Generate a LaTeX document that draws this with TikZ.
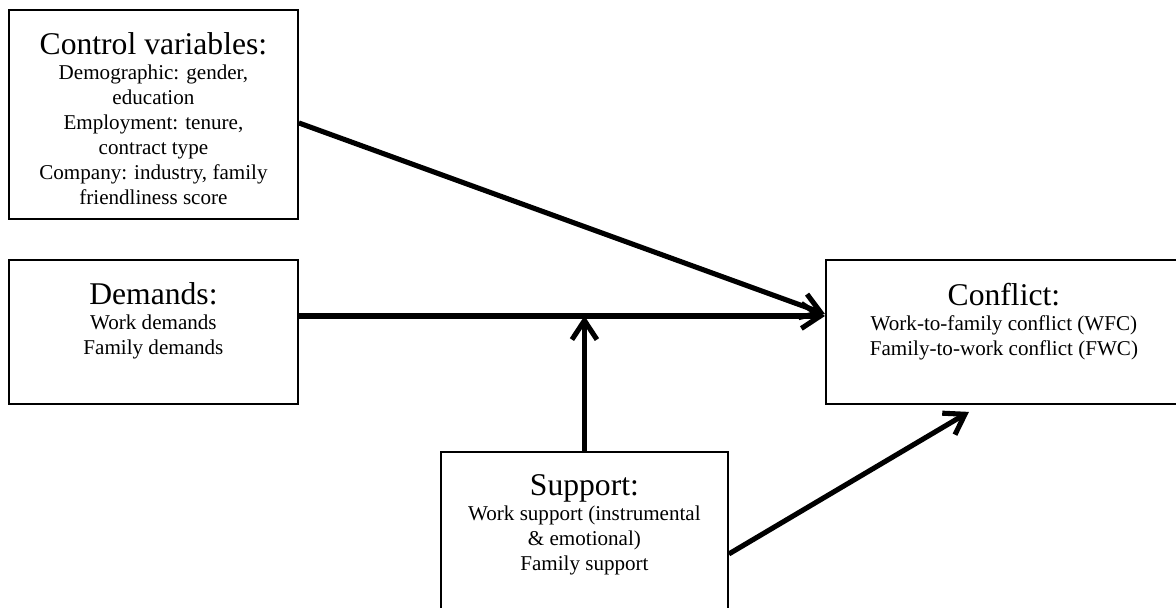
\documentclass[tikz,border=0pt]{standalone}
\usepackage{fontspec}
\setmainfont{Liberation Serif}
\usetikzlibrary{arrows.meta}

\newcommand{\boxbody}[4]{\parbox[c][#2][t]{#1}{\centering\vspace*{0.46cm}%
{\fontsize{18}{14.2}\selectfont #3}\\
\fontsize{12}{14.2}\selectfont #4}}

\tikzset{
	varbox/.style={draw, line width=1.1pt, inner sep=0pt, anchor=north west},
	arr/.style={line width=2.9pt, -{Straight Barb[length=0.38cm,width=0.5cm,line width=2.9pt]}}
}

\begin{document}
\begin{tikzpicture}[x=0.02cm,y=-0.02cm]
	\useasboundingbox (0,0) rectangle (1176,608);

	\node[varbox] (ctrl) at (8,9){\boxbody{5.78cm}{4.18cm}{Control variables:}{Demographic: gender,\\ education\\ Employment: tenure,\\ contract type\\ Company: industry, family\\ friendliness score}};
	\node[varbox] (dem) at (8,259){\boxbody{5.78cm}{2.88cm}{Demands:}{Work demands\\ Family demands}};
	\node[varbox] (conf) at (825,259){\boxbody{7.12cm}{2.88cm}{Conflict:}{Work-to-family conflict (WFC)\\ Family-to-work conflict (FWC)}};
	\node[varbox] (supp) at (440,451){\boxbody{5.74cm}{3.4cm}{Support:}{Work support (instrumental\\ \& emotional)\\ Family support}};

	\coordinate (hl) at ([yshift=0.32cm]dem.east);

	\draw[arr] ([yshift=-0.17cm]ctrl.east) -- ([yshift=0.36cm]conf.west);
	\draw[arr] (hl) -- (hl -| conf.west);
	\draw[arr] (supp.north) -- (supp.north |- hl);
	\draw[arr] ([yshift=-0.34cm]supp.east) -- ([xshift=-0.7cm,yshift=-0.14cm]conf.south);

\end{tikzpicture}
\end{document}
